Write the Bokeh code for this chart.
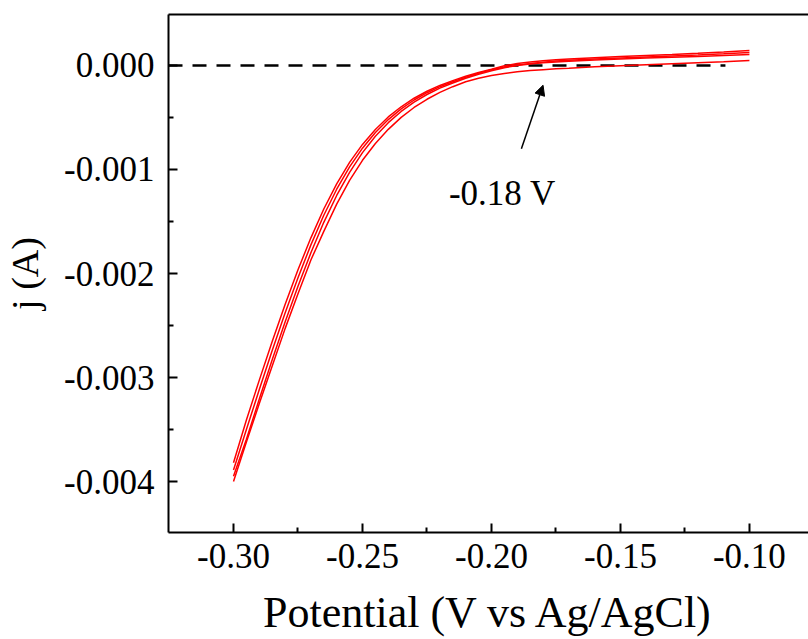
from bokeh.plotting import figure
from bokeh.models import Range1d, FixedTicker, LinearAxis, Arrow, NormalHead, Label
from bokeh.embed import file_html
from bokeh.resources import INLINE

# Potential grid (V vs Ag/AgCl)
potential = [-0.300, -0.295, -0.290, -0.285, -0.280, -0.275, -0.270, -0.265, -0.260,
             -0.255, -0.250, -0.245, -0.240, -0.235, -0.230, -0.225, -0.220, -0.215,
             -0.210, -0.205, -0.200, -0.195, -0.190, -0.185, -0.180, -0.175, -0.170,
             -0.160, -0.150, -0.140, -0.130, -0.120, -0.110, -0.100]

# Current (A) for four scans
scan_1 = [-0.003820, -0.003408, -0.003025, -0.002654, -0.002298, -0.001964, -0.001657,
          -0.001380, -0.001138, -0.000932, -0.000759, -0.000615, -0.000495, -0.000397,
          -0.000315, -0.000248, -0.000192, -0.000146, -0.000104, -0.000067, -0.000036,
          -0.000003, 0.000018, 0.000034, 0.000046, 0.000055, 0.000062, 0.000075,
          0.000086, 0.000096, 0.000106, 0.000117, 0.000130, 0.000145]
scan_2 = [-0.003890, -0.003500, -0.003115, -0.002740, -0.002380, -0.002040, -0.001725,
          -0.001440, -0.001190, -0.000975, -0.000795, -0.000645, -0.000520, -0.000417,
          -0.000332, -0.000262, -0.000204, -0.000156, -0.000113, -0.000075, -0.000042,
          -0.000015, 0.000005, 0.000020, 0.000032, 0.000042, 0.000050, 0.000062,
          0.000072, 0.000081, 0.000090, 0.000100, 0.000112, 0.000125]
scan_3 = [-0.003950, -0.003594, -0.003207, -0.002830, -0.002466, -0.002122, -0.001801,
          -0.001508, -0.001250, -0.001027, -0.000838, -0.000681, -0.000550, -0.000442,
          -0.000352, -0.000279, -0.000218, -0.000168, -0.000123, -0.000084, -0.000050,
          -0.000022, 0.000000, 0.000014, 0.000025, 0.000034, 0.000041, 0.000053,
          0.000063, 0.000071, 0.000079, 0.000087, 0.000096, 0.000105]
scan_4 = [-0.004000, -0.003620, -0.003250, -0.002890, -0.002530, -0.002195, -0.001870,
          -0.001595, -0.001333, -0.001104, -0.000912, -0.000750, -0.000614, -0.000499,
          -0.000404, -0.000325, -0.000259, -0.000204, -0.000156, -0.000122, -0.000096,
          -0.000077, -0.000061, -0.000049, -0.000040, -0.000032, -0.000026, -0.000013,
          -0.000002, 0.000008, 0.000017, 0.000026, 0.000036, 0.000048]

# Zero-current reference line
zero_x = [-0.3252, -0.1093]
zero_y = [0.0, 0.0]

# Annotation
onset_label = "-0.18 V"
arrow_start = (-0.1884, -0.00080)
arrow_end = (-0.1800, -0.00019)
label_pos = (-0.2165, -0.00123)

x_ticks = [-0.30, -0.25, -0.20, -0.15, -0.10]
x_minor = [-0.275, -0.225, -0.175, -0.125]
y_ticks = [0.000, -0.001, -0.002, -0.003, -0.004]
y_minor = [-0.0005, -0.0015, -0.0025, -0.0035]
x_tick_labels = {-0.30: "-0.30", -0.25: "-0.25", -0.20: "-0.20", -0.15: "-0.15", -0.10: "-0.10"}
y_tick_labels = {0.000: "0.000", -0.001: "-0.001", -0.002: "-0.002", -0.003: "-0.003", -0.004: "-0.004"}

FONT = "Liberation Serif"

p = figure(width=808, height=639, output_backend="svg", toolbar_location=None,
           x_range=Range1d(-0.3252, -0.0771), y_range=Range1d(-0.00449, 0.00049),
           min_border_left=168, min_border_right=0, min_border_top=14, min_border_bottom=107,
           background_fill_color="white", border_fill_color="white")
p.grid.visible = False
p.outline_line_color = None

p.line(zero_x, zero_y, line_color="black", line_width=2.5, line_dash="14 10")
for s in (scan_1, scan_2, scan_3, scan_4):
    p.line(potential, s, line_color="#ff0000", line_width=1.5)

p.add_layout(Arrow(end=NormalHead(size=10, fill_color="black", line_color="black"),
                   x_start=arrow_start[0], y_start=arrow_start[1],
                   x_end=arrow_end[0], y_end=arrow_end[1],
                   line_color="black", line_width=1.5))
p.add_layout(Label(x=label_pos[0], y=label_pos[1], text=onset_label,
                   text_font=FONT, text_font_size="35px", text_color="black",
                   text_baseline="alphabetic", text_align="left"))

xa = p.xaxis[0]
xa.ticker = FixedTicker(ticks=x_ticks, minor_ticks=x_minor)
xa.major_label_overrides = x_tick_labels
xa.axis_label = "Potential (V vs Ag/AgCl)"
ya = p.yaxis[0]
ya.ticker = FixedTicker(ticks=y_ticks, minor_ticks=y_minor)
ya.major_label_overrides = y_tick_labels
ya.axis_label = "j (A)"

for ax in (xa, ya):
    ax.axis_line_width = 2
    ax.axis_line_color = "black"
    ax.major_tick_line_width = 2
    ax.minor_tick_line_width = 2
    ax.major_tick_in = 9
    ax.major_tick_out = 0
    ax.minor_tick_in = 5
    ax.minor_tick_out = 0
    ax.major_label_text_font = FONT
    ax.major_label_text_font_size = "35px"
    ax.major_label_text_color = "black"
    ax.axis_label_text_font = FONT
    ax.axis_label_text_font_style = "normal"
    ax.axis_label_text_color = "black"

xa.axis_label_text_font_size = "44px"
ya.axis_label_text_font_size = "38px"
xa.major_label_standoff = 11
xa.axis_label_standoff = 17
ya.major_label_standoff = 14
ya.axis_label_standoff = 15

top = LinearAxis(ticker=FixedTicker(ticks=[]), axis_line_width=2, axis_line_color="black",
                 major_tick_line_color=None, minor_tick_line_color=None,
                 major_label_text_font_size="0px")
p.add_layout(top, "above")

open("out.html", "w").write(file_html(p, INLINE))
